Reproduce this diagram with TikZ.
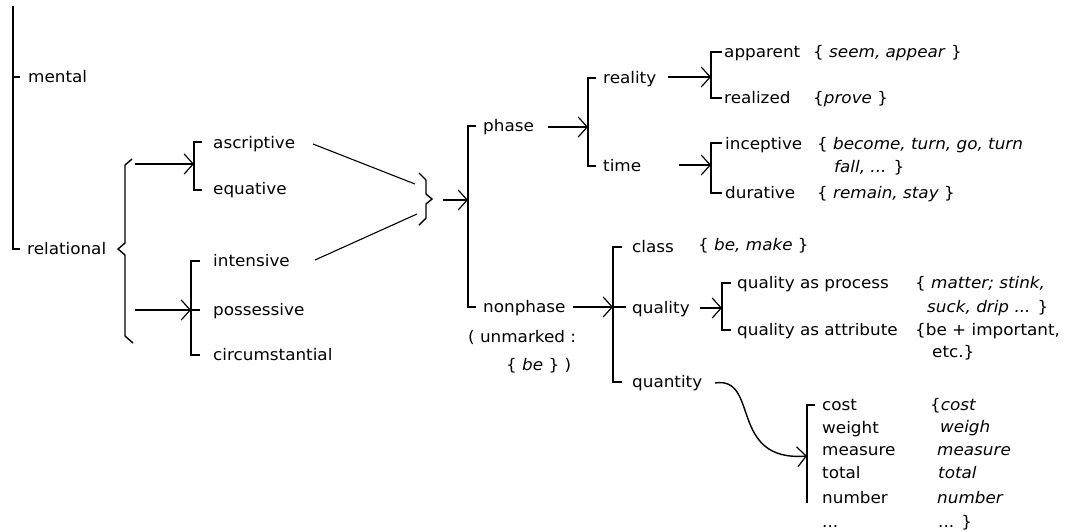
\documentclass[tikz,border=0pt]{standalone}
\usepackage{fontspec}
\setmainfont{DejaVu Sans}[FakeStretch=1.05]
\usetikzlibrary{arrows.meta}
\tikzset{
  lbl/.style={anchor=mid west, inner sep=0pt, yshift=-2pt, font=\fontsize{16}{19}\selectfont},
  ln/.style={line width=1.4pt, line cap=butt, line join=miter},
  arr/.style={ln, -{Straight Barb[length=9pt,width=20pt,line width=1.2pt]}},
}
\begin{document}
\begin{tikzpicture}[x=1pt,y=-1pt]
\useasboundingbox (0,0) rectangle (1071,531);

% ---------- top level: mental / relational ----------
\coordinate (top) at (13,6);
\coordinate (rootM) at (13,77);
\coordinate (rootR) at (13,249);
\draw[ln] (top) -- (rootR) -- ++(7,0);
\draw[ln] (rootM) -- ++(7,0);
\node[lbl] (mental) at (28,78) {mental};
\node[lbl] (relational) at (27,250) {relational};

% curly brace after "relational"
\draw[ln] (132,159) -- (125,165) -- (125,243) -- (118,249) -- (125,255) -- (125,336) -- (133,343);

% ---------- ascriptive / equative ----------
\coordinate (a1) at (135,164);
\coordinate (brA) at (194,164);
\draw[arr] (a1) -- (brA);
\draw[ln] (202,142) -- (194,142) -- (194,190) -- (202,190);
\node[lbl] (ascriptive) at (213,144) {ascriptive};
\node[lbl] (equative) at (213,190) {equative};

% ---------- intensive / possessive / circumstantial ----------
\coordinate (a2) at (135,310);
\coordinate (brB) at (191,310);
\draw[arr] (a2) -- (brB);
\draw[ln] (200,261) -- (191,261) -- (191,355) -- (200,355);
\draw[ln] (brB) -- (200,310);
\node[lbl] (intensive) at (213,262) {intensive};
\node[lbl] (possessive) at (213,311) {possessive};
\node[lbl] (circumstantial) at (213,356) {circumstantial};

% converging lines to the closing brace
\coordinate (jA) at (313,144);
\coordinate (jB) at (315,260);
\coordinate (kA) at (415,184);
\coordinate (kB) at (417,214);
\draw[ln, line width=1.1pt] (jA) -- (kA);
\draw[ln, line width=1.1pt] (jB) -- (kB);
\draw[ln] (419,173) -- (426,180) -- (426,194) -- (432,199) -- (426,204) -- (426,218) -- (419,225);

% ---------- phase / nonphase ----------
\coordinate (a3) at (443,200);
\coordinate (brC) at (468,200);
\draw[arr] (a3) -- (brC);
\draw[ln] (476,126) -- (468,126) -- (468,307) -- (476,307);
\node[lbl] (phase) at (483,127) {phase};
\node[lbl] (nonphase) at (483,308) {nonphase};
\node[lbl] (unmarked) at (468,338) {( unmarked :};
\node[lbl] (unmarkedbe) at (506,366) {\{ \textit{be} \} )};

% ---------- reality / time ----------
\coordinate (a4) at (548,127);
\coordinate (brD) at (588,127);
\draw[arr] (a4) -- (brD);
\draw[ln] (596,78) -- (588,78) -- (588,166) -- (596,166);
\node[lbl] (reality) at (603,79) {reality};
\node[lbl] (time) at (603,167) {time};

% apparent / realized
\coordinate (a5) at (668,77);
\coordinate (brE) at (711,77);
\draw[arr] (a5) -- (brE);
\draw[ln] (722,52) -- (711,52) -- (711,98) -- (722,98);
\node[lbl] (apparent) at (724,53) {apparent};
\node[lbl] (realized) at (724,99) {realized};
\node[lbl] (apparentEx) at (813,53) {\{ \textit{seem, appear} \}};
\node[lbl] (realizedEx) at (813,99) {\{\textit{prove} \}};

% inceptive / durative
\coordinate (a6) at (679,165);
\coordinate (brF) at (711,165);
\draw[arr] (a6) -- (brF);
\draw[ln] (722,143) -- (711,143) -- (711,193) -- (722,193);
\node[lbl] (inceptive) at (725,145) {inceptive};
\node[lbl] (durative) at (725,194) {durative};
\node[lbl] (inceptiveEx) at (817,145) {\{ \textit{become, turn, go, turn}};
\node[lbl] (inceptiveEx2) at (834,168) {\textit{fall, ...} \}};
\node[lbl] (durativeEx) at (817,194) {\{ \textit{remain, stay} \}};

% ---------- class / quality / quantity ----------
\coordinate (a7) at (573,307);
\coordinate (brG) at (613,307);
\draw[arr] (a7) -- (brG);
\draw[ln] (622,247) -- (613,247) -- (613,382) -- (622,382);
\draw[ln] (brG) -- (626,307);
\node[lbl] (class) at (632,248) {class};
\node[lbl] (quality) at (632,309) {quality};
\node[lbl] (quantity) at (632,383) {quantity};
\node[lbl] (classEx) at (698,246) {\{ \textit{be, make} \}};

% quality as process / attribute
\coordinate (a8) at (700,308);
\coordinate (brH) at (722,308);
\draw[arr] (a8) -- (brH);
\draw[ln] (731,283) -- (722,283) -- (722,330) -- (731,330);
\node[lbl] (qproc) at (737,284) {quality as process};
\node[lbl] (qattr) at (737,331) {quality as attribute};
\node[lbl] (qprocEx) at (915,284) {\{ \textit{matter; stink,}};
\node[lbl] (qprocEx2) at (927,308) {\textit{suck, drip ...} \}};
\node[lbl] (qattrEx) at (915,331) {\{be + important,};
\node[lbl] (qattrEx2) at (932,353) {etc.\}};

% quantity subtypes
\coordinate (a9) at (715,383);
\coordinate (brI) at (807,456);
\draw[arr] (a9) .. controls (760,376) and (728,462) .. (brI);
\draw[ln] (815,405) -- (807,405) -- (807,503);
\node[lbl] (cost) at (822,406) {cost};
\node[lbl] (weight) at (822,429) {weight};
\node[lbl] (measure) at (822,451) {measure};
\node[lbl] (total) at (822,474) {total};
\node[lbl] (number) at (822,499) {number};
\node[lbl] (etc) at (822,523) {...};
\node[lbl] (costEx) at (930,406) {\{\textit{cost}};
\node[lbl] (weightEx) at (940,428) {\textit{weigh}};
\node[lbl] (measureEx) at (937,451) {\textit{measure}};
\node[lbl] (totalEx) at (938,474) {\textit{total}};
\node[lbl] (numberEx) at (937,499) {\textit{number}};
\node[lbl] (etcEx) at (938,523) {... \}};
\end{tikzpicture}
\end{document}
